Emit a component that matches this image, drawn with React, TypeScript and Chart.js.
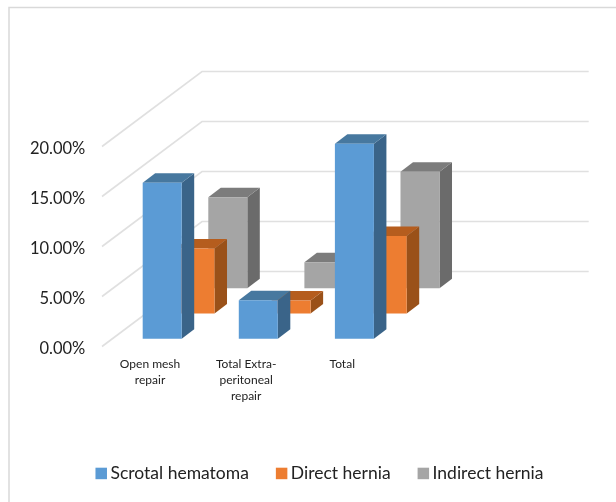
import React, { useEffect, useRef } from "react";
import { Chart, registerables } from "chart.js";

Chart.register(...registerables);

const categories: (string | string[])[] = [
  ["Open mesh", "repair"],
  ["Total Extra-", "peritoneal", "repair"],
  "Total",
  "",
];
const scrotalHematoma = [15.6, 3.85, 19.5, null];
const directHernia = [6.5, 1.3, 7.75, null];
const indirectHernia = [9.1, 2.6, 11.65, null];
const yTicksMax = 20;
const yTicksStep = 5;

const seriesNames = ["Scrotal hematoma", "Direct hernia", "Indirect hernia"];
const frontColors = ["#5B9BD5", "#ED7D31", "#A5A5A5"];
const sideColors = ["#3A6489", "#9A5119", "#6B6B6B"];
const topColors = ["#47789F", "#B55D1E", "#7C7C7C"];

const FONT = "Lato, Carlito, Calibri, sans-serif";
const DEPTH_X = 100;
const DEPTH_Y = 75;
const BAR_DX = 12.5;
const BAR_DY = 9.6;
const SLOT0_X = 12.15;
const SLOT0_Y = 7.75;
const SLOT_X = 32.8;
const SLOT_Y = 25.2;

function poly(ctx: CanvasRenderingContext2D, color: string, pts: number[][]) {
  ctx.fillStyle = color;
  ctx.beginPath();
  pts.forEach(([x, y], i) => (i ? ctx.lineTo(x, y) : ctx.moveTo(x, y)));
  ctx.closePath();
  ctx.fill();
}

const frame3d = {
  id: "frame3d",
  beforeDraw(chart: any) {
    const { ctx, chartArea, scales } = chart;
    ctx.save();
    ctx.fillStyle = "#ffffff";
    ctx.fillRect(0, 0, chart.width, chart.height);
    ctx.strokeStyle = "#d9d9d9";
    ctx.lineWidth = 1.5;
    ctx.beginPath();
    ctx.moveTo(9, chart.height);
    ctx.lineTo(9, 7.5);
    ctx.lineTo(chart.width, 7.5);
    ctx.stroke();
    ctx.strokeStyle = "#e0e0e0";
    ctx.lineWidth = 1.6;
    for (const tick of scales.y.ticks) {
      const y = scales.y.getPixelForValue(tick.value);
      ctx.beginPath();
      ctx.moveTo(chartArea.left, y);
      ctx.lineTo(chartArea.left + DEPTH_X, y - DEPTH_Y);
      ctx.lineTo(chartArea.right + DEPTH_X + 2.3, y - DEPTH_Y);
      ctx.stroke();
    }
    ctx.restore();
  },
  // Replaces the flat rectangle with a 3D box, at the position the bar element got from the scales.
  beforeDatasetDraw(chart: any, args: any) {
    const { ctx } = chart;
    const d = args.index;
    const sx = SLOT0_X + d * SLOT_X;
    const sy = SLOT0_Y + d * SLOT_Y;
    const values = chart.data.datasets[d].data;
    ctx.save();
    args.meta.data.forEach((bar: any, i: number) => {
      if (values[i] == null) return;
      const l = bar.x - bar.width / 2 + sx;
      const r = bar.x + bar.width / 2 + sx;
      const t = bar.y - sy;
      const b = bar.base - sy;
      poly(ctx, sideColors[d], [[r, t], [r + BAR_DX, t - BAR_DY], [r + BAR_DX, b - BAR_DY], [r, b]]);
      poly(ctx, topColors[d], [[l, t], [l + BAR_DX, t - BAR_DY], [r + BAR_DX, t - BAR_DY], [r, t]]);
      poly(ctx, frontColors[d], [[l, t], [r, t], [r, b], [l, b]]);
    });
    ctx.restore();
    return false;
  },
  afterDraw(chart: any) {
    const { ctx } = chart;
    const datasets = chart.data.datasets;
    ctx.save();
    ctx.font = `17.5px ${FONT}`;
    ctx.textBaseline = "middle";
    ctx.textAlign = "left";
    const box = 11.5;
    const gap = 3.5;
    const sep = 27;
    const widths = datasets.map((ds: any) => ctx.measureText(ds.label).width);
    const total = widths.reduce((a: number, w: number) => a + w + box + gap, 0) + sep * (datasets.length - 1);
    let x = 319.5 - total / 2;
    datasets.forEach((ds: any, i: number) => {
      ctx.fillStyle = frontColors[i];
      ctx.fillRect(x, 467.7, box, box);
      ctx.fillStyle = "#222222";
      ctx.fillText(ds.label, x + box + gap, 473.5);
      x += box + gap + widths[i] + sep;
    });
    ctx.restore();
  },
};

export default function App() {
  const ref = useRef<HTMLCanvasElement | null>(null);
  useEffect(() => {
    const chart = new Chart(ref.current as HTMLCanvasElement, {
      type: "bar",
      data: {
        labels: categories as any,
        datasets: [scrotalHematoma, directHernia, indirectHernia].map((data, i) => ({
          label: seriesNames[i],
          data: data as any,
          backgroundColor: frontColors[i],
          grouped: false,
          barPercentage: 0.406,
          categoryPercentage: 1,
        })),
      },
      options: {
        responsive: false,
        animation: false,
        layout: { padding: { left: 0, top: 146.5, right: 616 - 486.4, bottom: 502 - 346.5 - 60 } },
        plugins: { legend: { display: false }, tooltip: { enabled: false }, title: { display: false } },
        scales: {
          x: {
            type: "category",
            grid: { display: false, drawTicks: false },
            border: { display: false },
            afterFit: (s: any) => { s.height = 60; },
            ticks: {
              autoSkip: false,
              maxRotation: 0,
              minRotation: 0,
              padding: 10,
              color: "#222222",
              font: { family: FONT, size: 12, lineHeight: 1.333 },
            },
          },
          y: {
            type: "linear",
            min: 0,
            max: yTicksMax,
            grid: { display: false, drawTicks: false },
            border: { display: false },
            afterFit: (s: any) => { s.width = 102; },
            ticks: {
              stepSize: yTicksStep,
              padding: 16.7,
              labelOffset: 2,
              color: "#222222",
              font: { family: FONT, size: 16.5 },
              callback: (v: any) => `${Number(v).toFixed(2)}%`,
            },
          },
        },
      },
      plugins: [frame3d],
    } as any);
    return () => chart.destroy();
  }, []);
  return (
    <div style={{ position: "absolute", left: 0, top: 0, width: 616, height: 502, overflow: "hidden" }}>
      <canvas ref={ref} width={616} height={502} style={{ display: "block", filter: "blur(0.4px)" }} />
    </div>
  );
}
